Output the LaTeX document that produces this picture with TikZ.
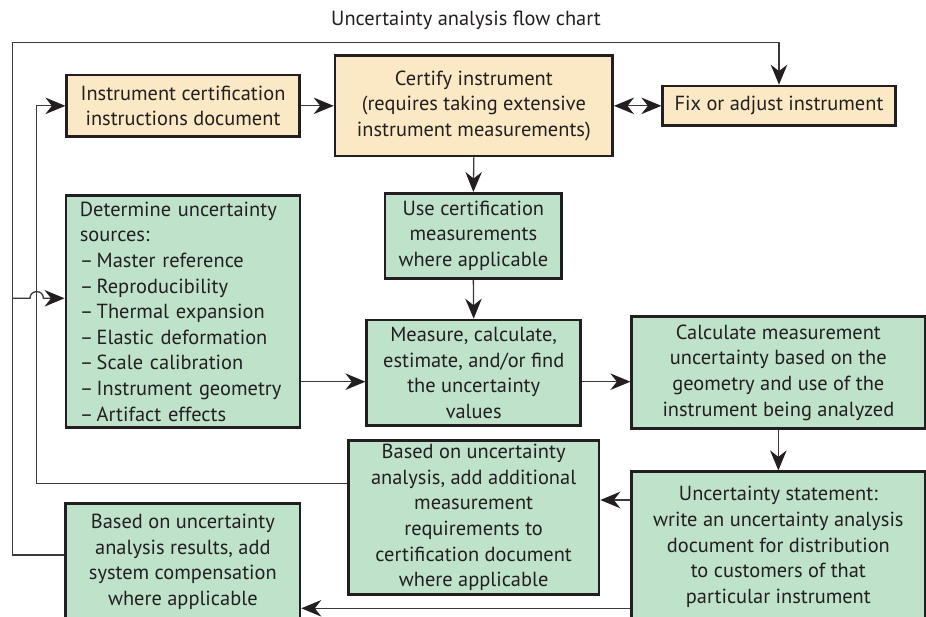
\documentclass[tikz,border=0pt]{standalone}
\usepackage{fontspec}
\setmainfont{PT Sans}
\usetikzlibrary{arrows.meta}
\definecolor{ink}{HTML}{231F20}
\definecolor{wire}{HTML}{3A3838}
\definecolor{peachc}{HTML}{FBE8C4}
\definecolor{greenc}{HTML}{BEE2CA}
\newcommand{\boxfont}{\fontsize{20.4}{25.6}\selectfont}
\tikzset{
  box/.style={draw=ink, line width=2.6pt, inner sep=0pt, align=center,
              font=\boxfont, text=ink},
  peachbox/.style={box, fill=peachc},
  greenbox/.style={box, fill=greenc},
  wireline/.style={draw=wire, line width=1.3pt},
  tip/.tip={Stealth[length=20pt, width=16.5pt, inset=6.5pt, color=ink]},
  arr/.style={wireline, -tip},
  dblarr/.style={wireline, tip-tip},
}
\begin{document}
\begin{tikzpicture}[x=1pt, y=-1pt]
\clip (0,0) rectangle (926,617);
\fill[white] (0,0) rectangle (926,617);

% title
\node[font=\boxfont, text=ink] (title) at (466,20) {Uncertainty analysis flow chart};

% top row
\node[peachbox, minimum width=232.6pt, minimum height=61.7pt] (cert) at (183,105.85)
  {Instrument certification\\instructions document};
\node[peachbox, minimum width=277.7pt, minimum height=100.3pt] (certify) at (473.85,105.85)
  {Certify instrument\\(requires taking extensive\\instrument measurements)};
\node[peachbox, minimum width=232.6pt, minimum height=39.7pt] (fix) at (779,105.85)
  {Fix or adjust instrument};

% middle
\node[greenbox, minimum width=176.7pt, minimum height=85pt] (use) at (473.35,235.8)
  {Use certification\\measurements\\where applicable};
\node[greenbox, align=left, text width=206pt, inner xsep=14pt, minimum height=232pt] (det) at (182.85,311.7)
  {Determine uncertainty\\sources:\\–\,Master reference\\–\,Reproducibility\\–\,Thermal expansion\\–\,Elastic deformation\\–\,Scale calibration\\–\,Instrument geometry\\–\,Artifact effects};
\node[greenbox, minimum width=214pt, minimum height=105.7pt] (meas) at (473.7,372.85)
  {Measure, calculate,\\estimate, and/or find\\the uncertainty\\values};
\node[greenbox, minimum width=293.3pt, minimum height=111.6pt] (calc) at (778.35,372.5)
  {Calculate measurement\\uncertainty based on the\\geometry and use of the\\instrument being analyzed};

% bottom
\node[greenbox, minimum width=250.7pt, minimum height=153.6pt] (addreq) at (473.65,517.5)
  {Based on uncertainty\\analysis, add additional\\measurement\\requirements to\\certification document\\where applicable};
\node[greenbox, minimum width=293.3pt, minimum height=150.3pt] (stmt) at (778.35,546.85)
  {Uncertainty statement:\\write an uncertainty analysis\\document for distribution\\to customers of that\\particular instrument};
\node[greenbox, minimum width=234.3pt, minimum height=116.7pt] (comp) at (182.85,561.65)
  {Based on uncertainty\\analysis results, add\\system compensation\\where applicable};

% routing guides
\coordinate (outer) at (12.7,42.7);
\coordinate (inner) at (36.7,0);
\coordinate (rowmeas) at (0,381.7);
\coordinate (rowreq) at (0,500);
\coordinate (rowcomp) at (0,608.3);
\coordinate (rowback) at (0,483.3);
\coordinate (rowsys) at (0,555);
\coordinate (rowdet) at (0,298.3);

% connectors
\draw[arr] (cert.east) -- (certify.west);
\draw[dblarr] (certify.east) -- (fix.west);
\draw[arr] (certify.south) -- (use.north);
\draw[arr] (use.south) -- (meas.north);
\draw[arr] (det.east |- rowmeas) -- (meas.west |- rowmeas);
\draw[arr] (meas.east |- rowmeas) -- (calc.west |- rowmeas);
\draw[arr] (calc.south) -- (stmt.north);
\draw[arr] (stmt.west |- rowreq) -- (addreq.east |- rowreq);
\draw[arr] (stmt.west |- rowcomp) -- (comp.east |- rowcomp);

% feedback to the certification document
\draw[arr] (addreq.west |- rowback) -| (inner |- cert.west) -- (cert.west);

% feedback loop to the fix box and the uncertainty sources
\draw[arr] (comp.west |- rowsys) -| (outer) -| (fix.north);
\draw[arr] (outer |- rowdet) -- (30,298.3)
  .. controls (30,289.4) and (43.4,289.4) .. (43.4,298.3)
  -- (det.west |- rowdet);
\end{tikzpicture}
\end{document}
